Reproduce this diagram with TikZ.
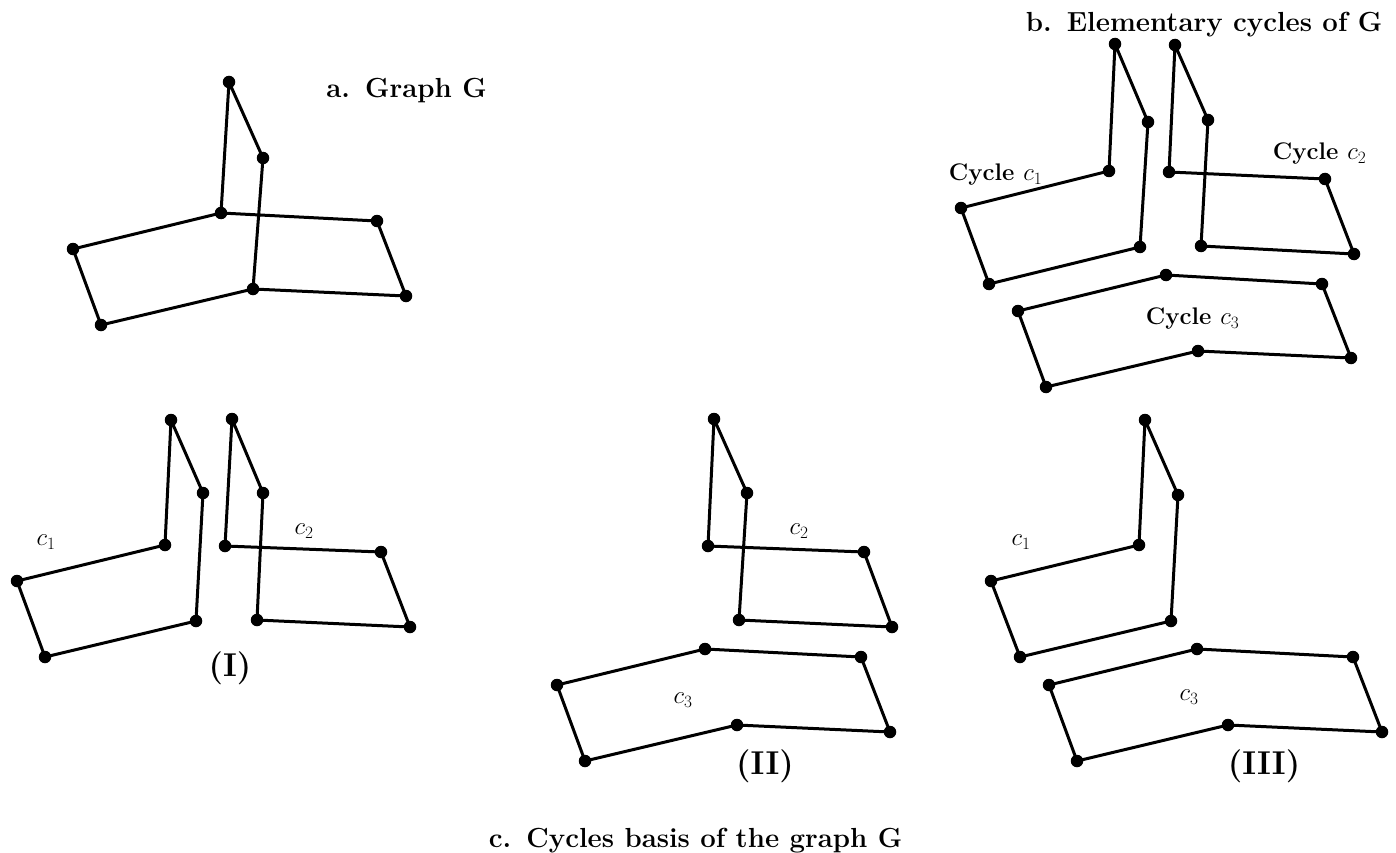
\documentclass[tikz,border=0pt]{standalone}
\begin{document}
\begin{tikzpicture}[x=1pt,y=-1pt,
  vertex/.style={circle,fill=black,inner sep=0pt,minimum size=12.5pt},
  edge/.style={line width=3pt,line cap=round,line join=round},
  title/.style={font=\fontsize{27.6}{32}\selectfont\bfseries,anchor=center},
  small/.style={font=\fontsize{24}{26}\selectfont\bfseries,anchor=center},
  lab/.style={font=\fontsize{24}{26}\selectfont,anchor=center},
  big/.style={font=\fontsize{33}{36}\selectfont\bfseries,anchor=center}]
\useasboundingbox (0,0) rectangle (1396,853);
\newcommand{\vx}[3]{\node[vertex] (#1) at (#2,#3) {};}
% a: graph G
\vx{aa}{229}{82}\vx{ab}{263}{158}\vx{ac}{221}{213}\vx{ad}{377}{221}\vx{ae}{406}{296}\vx{af}{253}{289}\vx{ag}{73}{249}\vx{ah}{101}{325}
\draw[edge] (ac.center)--(aa.center)--(ab.center)--(af.center)--(ae.center)--(ad.center)--(ac.center)--(ag.center)--(ah.center)--(af.center);
% b: c1
\vx{ba}{1115}{44}\vx{bb}{1148}{122}\vx{bc}{1109}{171}\vx{bd}{1140}{247}\vx{be}{961}{208}\vx{bf}{989}{284}
\draw[edge] (bc.center)--(ba.center)--(bb.center)--(bd.center)--(bf.center)--(be.center)--(bc.center);
% b: c2
\vx{ca}{1175}{45}\vx{cb}{1208}{120}\vx{cc}{1169}{172}\vx{cd}{1325}{179}\vx{ce}{1354}{254}\vx{cf}{1201}{246}
\draw[edge] (cc.center)--(ca.center)--(cb.center)--(cf.center)--(ce.center)--(cd.center)--(cc.center);
% b: c3
\vx{da}{1166}{275}\vx{db}{1322}{284}\vx{dc}{1351}{358}\vx{dd}{1198}{351}\vx{de}{1018}{311}\vx{df}{1046}{387}
\draw[edge] (da.center)--(db.center)--(dc.center)--(dd.center)--(df.center)--(de.center)--(da.center);
% I c1
\vx{ea}{171}{420}\vx{eb}{203}{493}\vx{ec}{165}{545}\vx{ed}{196}{621}\vx{ee}{17}{581}\vx{ef}{45}{657}
\draw[edge] (ec.center)--(ea.center)--(eb.center)--(ed.center)--(ef.center)--(ee.center)--(ec.center);
% I c2
\vx{fa}{232}{419}\vx{fb}{263}{493}\vx{fc}{225}{546}\vx{fd}{381}{552}\vx{fe}{410}{627}\vx{ff}{257}{620}
\draw[edge] (fc.center)--(fa.center)--(fb.center)--(ff.center)--(fe.center)--(fd.center)--(fc.center);
% II c2
\vx{ga}{714}{419}\vx{gb}{747}{493}\vx{gc}{708}{546}\vx{gd}{864}{552}\vx{ge}{892}{627}\vx{gf}{739}{620}
\draw[edge] (gc.center)--(ga.center)--(gb.center)--(gf.center)--(ge.center)--(gd.center)--(gc.center);
% II c3
\vx{ha}{705}{649}\vx{hb}{861}{657}\vx{hc}{890}{732}\vx{hd}{737}{725}\vx{he}{557}{685}\vx{hf}{585}{761}
\draw[edge] (ha.center)--(hb.center)--(hc.center)--(hd.center)--(hf.center)--(he.center)--(ha.center);
% III c1
\vx{ia}{1145}{420}\vx{ib}{1178}{495}\vx{ic}{1139}{545}\vx{id}{1171}{621}\vx{ie}{991}{581}\vx{if}{1020}{657}
\draw[edge] (ic.center)--(ia.center)--(ib.center)--(id.center)--(if.center)--(ie.center)--(ic.center);
% III c3
\vx{ja}{1197}{649}\vx{jb}{1353}{657}\vx{jc}{1382}{732}\vx{jd}{1228}{725}\vx{je}{1049}{685}\vx{jf}{1077}{761}
\draw[edge] (ja.center)--(jb.center)--(jc.center)--(jd.center)--(jf.center)--(je.center)--(ja.center);
% labels
\node[title] (t1) at (406.5,90.5) {a.\hspace{0.55em}Graph G};
\node[title] (t2) at (1204,24.5) {b.\hspace{0.55em}Elementary cycles of G};
\node[title] (t3) at (695.5,840.5) {c.\hspace{0.55em}Cycles basis of the graph G};
\node[small] (l1) at (995.5,174.5) {Cycle $c_1$};
\node[small] (l2) at (1319.5,153.5) {Cycle $c_2$};
\node[small] (l3) at (1192.5,318.5) {Cycle $c_3$};
\node[lab] (m1) at (46,542) {$c_1$};
\node[lab] (m2) at (304,531) {$c_2$};
\node[lab] (m3) at (799,531) {$c_2$};
\node[lab] (m4) at (683,700) {$c_3$};
\node[lab] (m5) at (1021,542) {$c_1$};
\node[lab] (m6) at (1189,697) {$c_3$};
\node[big] (b1) at (230,668.5) {(I)};
\node[big] (b2) at (765,766.5) {(II)};
\node[big] (b3) at (1264,766.5) {(III)};
\end{tikzpicture}
\end{document}
